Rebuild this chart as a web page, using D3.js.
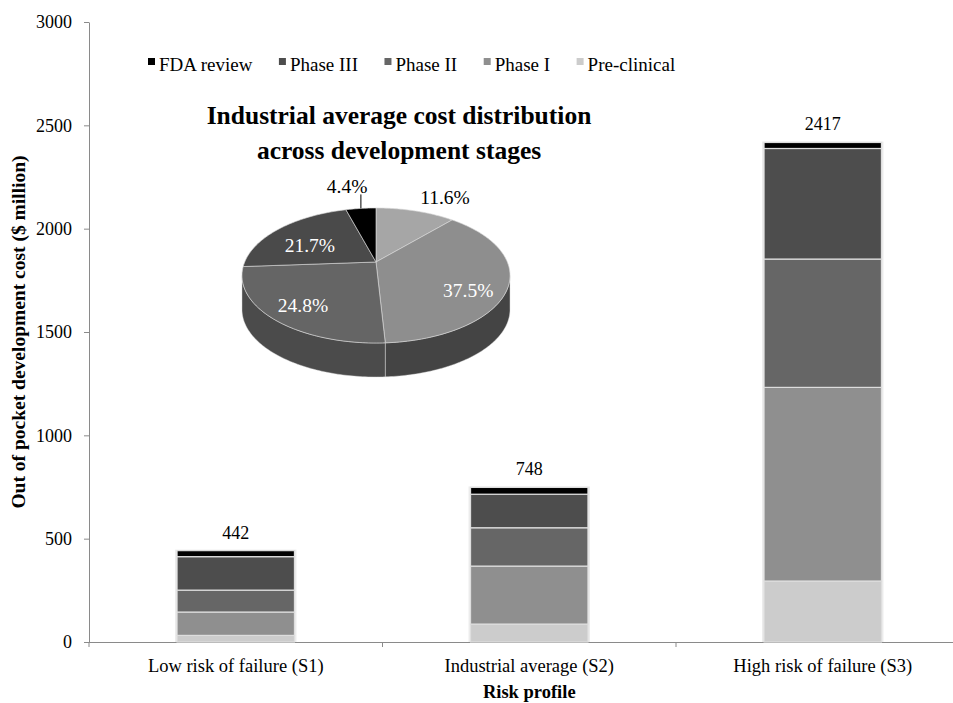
<!DOCTYPE html>
<html>
<head>
<meta charset="utf-8">
<script src="https://cdn.jsdelivr.net/npm/d3@7"></script>
<style>
  body { margin: 0; background: #fff; }
  svg { display: block; }
  text { font-family: "Liberation Serif", "Times New Roman", serif; fill: #000; }
</style>
</head>
<body>
<svg id="chart" width="953" height="703"></svg>
<script>
// ---- data ----
const scenarios = ["Low risk of failure (S1)", "Industrial average (S2)", "High risk of failure (S3)"];
const stages = ["Pre-clinical", "Phase I", "Phase II", "Phase III", "FDA review"];
const preClinical = [32, 86.8, 295];
const phaseI = [113, 280.5, 937];
const phaseII = [106, 185.5, 621];
const phaseIII = [162, 162.3, 535];
const fdaReview = [29, 32.9, 29];
const totals = [442, 748, 2417];
const pieShares = [11.6, 37.5, 24.8, 21.7, 4.4];   // industrial average, same stage order
const yTicks = [0, 500, 1000, 1500, 2000, 2500, 3000];

// ---- styles ----
const barColor = { "Pre-clinical": "#cccccc", "Phase I": "#8f8f8f", "Phase II": "#666666", "Phase III": "#4d4d4d", "FDA review": "#000000" };
const pieColor = { "Pre-clinical": "#a6a6a6", "Phase I": "#8e8e8e", "Phase II": "#656565", "Phase III": "#4a4a4a", "FDA review": "#000000" };
const pieSideColor = { "Pre-clinical": "#6a6a6a", "Phase I": "#444444", "Phase II": "#4b4b4b", "Phase III": "#333333", "FDA review": "#000000" };

const svg = d3.select("#chart");
const margin = { left: 89, top: 22, bottom: 642, right: 969.5 };

const series = [preClinical, phaseI, phaseII, phaseIII, fdaReview];
const rows = scenarios.map((s, i) => {
  const r = { scenario: s };
  stages.forEach((k, j) => { r[k] = series[j][i]; });
  return r;
});

const x = d3.scaleBand().domain(scenarios).range([margin.left, margin.right])
  .paddingInner(0.6).paddingOuter(0.3);
const y = d3.scaleLinear().domain([0, 3000]).range([margin.bottom, margin.top]);

// ---- axes ----
const yAxis = svg.append("g").attr("transform", `translate(${margin.left},0)`)
  .call(d3.axisLeft(y).tickValues(yTicks).tickSize(5).tickSizeOuter(0).tickPadding(12).tickFormat(d3.format("d")));
yAxis.select(".domain").attr("stroke", "#8a8a8a");
yAxis.selectAll(".tick line").attr("stroke", "#8a8a8a");
yAxis.selectAll(".tick text").style("font-size", "18px").attr("fill", "#000");

const xAxis = svg.append("g").attr("transform", `translate(0,${margin.bottom})`)
  .call(d3.axisBottom(x).tickSize(0).tickSizeOuter(0).tickPadding(17));
xAxis.select(".domain").attr("d", `M${margin.left - 5},0.5H953`).attr("stroke", "#8a8a8a");
xAxis.selectAll(".tick text").style("font-size", "18.5px").attr("fill", "#000");
// category boundary ticks
const bounds = d3.range(scenarios.length + 1).map(i => margin.left + i * x.step());
xAxis.selectAll(".bound").data(bounds).join("line")
  .attr("x1", d => d).attr("x2", d => d).attr("y1", 0).attr("y2", 5)
  .attr("stroke", "#8a8a8a");

// axis titles
svg.append("text")
  .attr("transform", `translate(25,${(margin.top + margin.bottom) / 2}) rotate(-90)`)
  .attr("text-anchor", "middle").style("font-size", "19.5px").style("font-weight", "bold")
  .text("Out of pocket development cost ($ million)");
svg.append("text")
  .attr("x", (margin.left + margin.right) / 2).attr("y", 698)
  .attr("text-anchor", "middle").style("font-size", "18.5px").style("font-weight", "bold")
  .text("Risk profile");

// ---- stacked bars ----
const stacked = d3.stack().keys(stages)(rows);
const barG = svg.append("g");
barG.selectAll(".halo").data(rows).join("rect")
  .attr("x", d => x(d.scenario) - 2).attr("width", x.bandwidth() + 4)
  .attr("y", (d, i) => y(totals[i]) - 1).attr("height", (d, i) => y(0) - y(totals[i]) + 1)
  .attr("fill", "#ececec");
stacked.forEach(layer => {
  barG.selectAll(null).data(layer).join("rect")
    .attr("x", d => x(d.data.scenario)).attr("width", x.bandwidth())
    .attr("y", d => y(d[1])).attr("height", d => y(d[0]) - y(d[1]))
    .attr("fill", barColor[layer.key])
    .attr("stroke", "#dedede").attr("stroke-width", 1.2);
});
barG.selectAll(".total").data(totals).join("text")
  .attr("x", (d, i) => x(scenarios[i]) + x.bandwidth() / 2)
  .attr("y", d => y(d) - 12)
  .attr("text-anchor", "middle").style("font-size", "18px")
  .text(d => d);

// ---- legend ----
const legendOrder = stages.slice().reverse();
const legend = svg.append("g");
let lx = 148;
legendOrder.forEach(k => {
  legend.append("rect").attr("x", lx).attr("y", 58).attr("width", 7).attr("height", 7).attr("fill", barColor[k]);
  const t = legend.append("text").attr("x", lx + 11).attr("y", 71).style("font-size", "19px").text(k);
  lx += 11 + t.node().getComputedTextLength() + 26.5;
});

// ---- inset pie (perspective 3D) ----
svg.append("text").attr("x", 399).attr("y", 124).attr("text-anchor", "middle")
  .style("font-size", "25.5px").style("font-weight", "bold").text("Industrial average cost distribution");
svg.append("text").attr("x", 399).attr("y", 159).attr("text-anchor", "middle")
  .style("font-size", "25.5px").style("font-weight", "bold").text("across development stages");

const P = { cx: 376, cy: 262, a: 131.3, b: 64.8, k: 0.2, depth: 34 };
function proj(r, t) {
  const s = Math.sin(t), c = Math.cos(t), w = 1 + P.k * r * c;
  return [P.cx + P.a * r * s / w, P.cy - P.b * r * c / w];
}
function arcPts(t0, t1, dy = 0) {
  const n = Math.max(2, Math.ceil(Math.abs(t1 - t0) / (Math.PI / 180)));
  return d3.range(n + 1).map(i => { const p = proj(1, t0 + (t1 - t0) * i / n); return [p[0], p[1] + dy]; });
}
const line = d3.line();
const arcs = d3.pie().sort(null).value(d => d)(pieShares);
const tL = Math.acos(-P.k), tR = 2 * Math.PI - tL;
const pieG = svg.append("g");

// front wall
arcs.forEach((a, i) => {
  const s = Math.max(a.startAngle, tL), e = Math.min(a.endAngle, tR);
  if (s >= e) return;
  const pts = arcPts(s, e).concat(arcPts(e, s, P.depth));
  pieG.append("path").attr("d", line(pts) + "Z")
    .attr("fill", pieSideColor[stages[i]])
    .attr("stroke", "rgba(220,220,220,0.55)").attr("stroke-width", 0.8);
});
// top faces
arcs.forEach((a, i) => {
  const pts = [[P.cx, P.cy]].concat(arcPts(a.startAngle, a.endAngle));
  pieG.append("path").attr("d", line(pts) + "Z")
    .attr("fill", pieColor[stages[i]])
    .attr("stroke", "rgba(215,215,215,0.8)").attr("stroke-width", 0.8);
});

// slice labels: radius and angle nudge from each slice's mid angle
const labelPlace = [
  { r: 1.42, da: 6.7, fill: "#000" },
  { r: 0.76, da: 12.4, fill: "#fff" },
  { r: 0.765, da: -1.5, fill: "#fff" },
  { r: 0.6, da: -7.5, fill: "#fff" },
  { r: 1.56, da: -2.7, fill: "#000" }
];
arcs.forEach((a, i) => {
  const mid = (a.startAngle + a.endAngle) / 2;
  const lp = labelPlace[i];
  const p = proj(lp.r, mid + lp.da * Math.PI / 180);
  pieG.append("text").attr("x", p[0]).attr("y", p[1]).attr("dy", "0.35em")
    .attr("text-anchor", "middle").style("font-size", "19.5px").style("fill", lp.fill)
    .text(d3.format(".1f")(a.data) + "%");
  if (lp.r > 1.5) {
    const edge = proj(1, mid);
    pieG.append("line").attr("x1", edge[0]).attr("x2", edge[0])
      .attr("y1", edge[1]).attr("y2", edge[1] - 14).attr("stroke", "#000").attr("stroke-width", 1);
  }
});
</script>
</body>
</html>
